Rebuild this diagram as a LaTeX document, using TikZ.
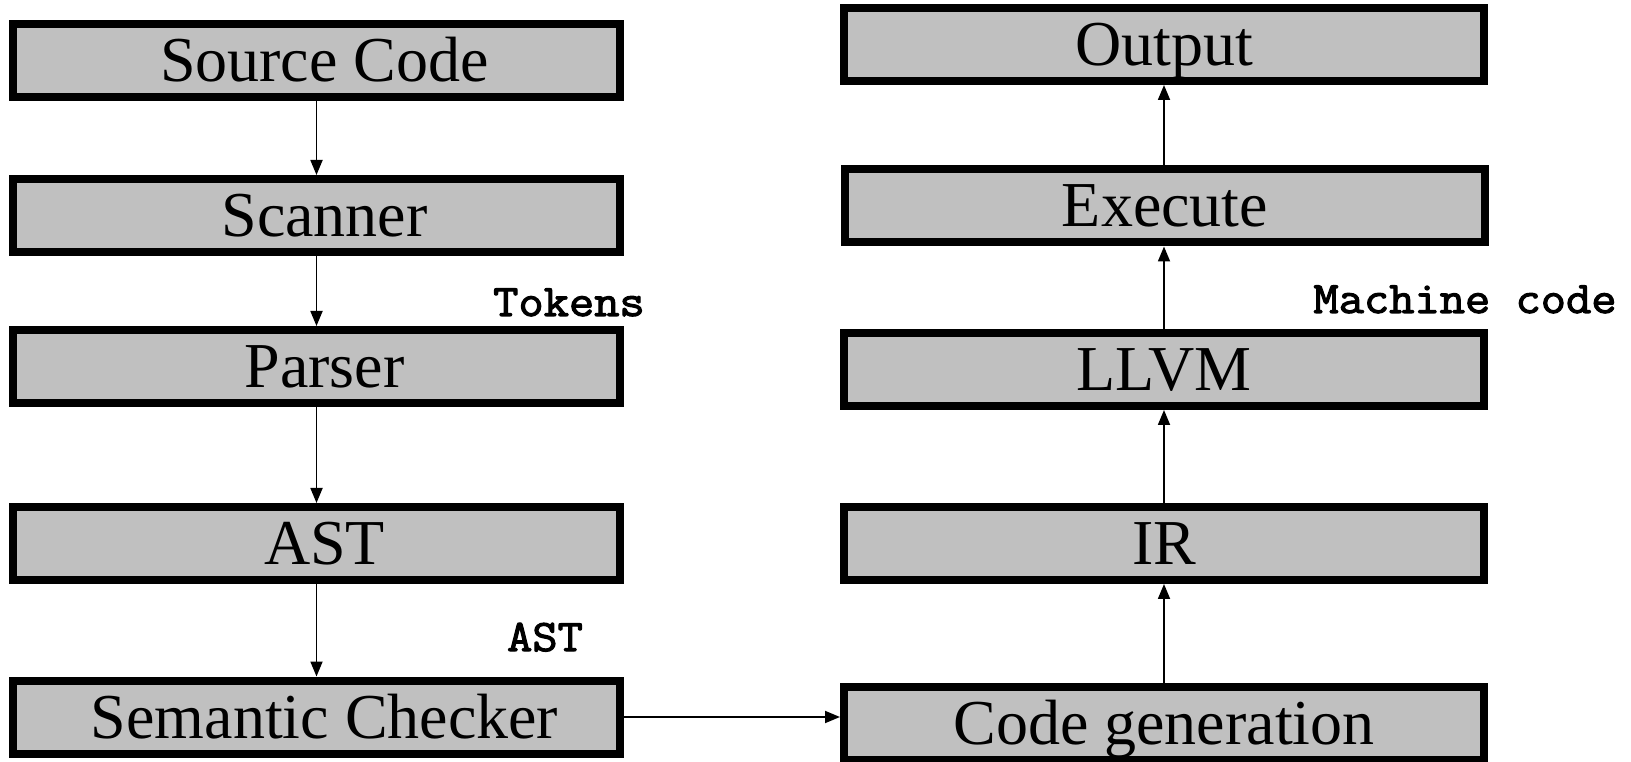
\documentclass[tikz,border=0pt]{standalone}
\usepackage{fontspec}
\setmainfont{Liberation Serif}
\newfontfamily\labelfont[FakeStretch=1.09,FakeBold=2.5]{Latin Modern Mono}
\usetikzlibrary{arrows.meta}
\begin{document}
\begin{tikzpicture}[x=1pt,y=1pt,
  stage/.style={draw=black, line width=8pt, fill=boxgray, inner sep=0pt,
    minimum height=73pt, text height=42pt, text depth=0pt,
    font=\fontsize{64}{72}\selectfont},
  leftstage/.style={stage, minimum width=607pt},
  rightstage/.style={stage, minimum width=640pt},
  shifted/.style={label={[font=\fontsize{64}{72}\selectfont, text height=42pt, text depth=0pt, inner sep=0pt, xshift=8pt]center:#1}},
  flow/.style={line width=1.8pt, -{Triangle[length=15pt,width=12pt]}},
  tag/.style={anchor=base, inner sep=0pt, font=\labelfont\fontsize{45}{50}\selectfont}
]
\definecolor{boxgray}{HTML}{C0C0C0}
\useasboundingbox (0,0) rectangle (1631,761);

% front end (left column); its captions sit a little right of centre
\node[leftstage, shifted=Source Code]      (src)  at (316.5,700)   {};
\node[leftstage, shifted=Scanner]          (scan) at (316.5,545.5) {};
\node[leftstage, shifted=Parser]           (pars) at (316.5,394.5) {};
\node[leftstage, shifted=AST]              (ast)  at (316.5,217.5) {};
\node[leftstage, shifted=Semantic Checker] (sem)  at (316.5,44)    {};

% back end (right column)
\node[rightstage] (out)  at (1164,716.5) {Output};
\node[rightstage] (exe)  at (1165,555)   {Execute};
\node[rightstage] (llvm) at (1164,391.5) {LLVM};
\node[rightstage] (ir)   at (1164,217.5) {IR};
\node[rightstage] (cg)   at (1164,37.5)  {Code generation};

% intermediate products
\node[tag] (tok)  at (569,445)  {Tokens};
\node[tag] (astl) at (545,110)  {AST};
\node[tag] (mc)   at (1465,448) {Machine code};

% connectors
\begin{scope}[xshift=2pt]
\draw[flow] (src)  -- (scan);
\draw[flow] (scan) -- (pars);
\draw[flow] (pars) -- (ast);
\draw[flow] (ast)  -- (sem);
\end{scope}
\draw[flow] (sem.east) -- (sem.east -| cg.west);
\draw[flow] (cg)   -- (ir);
\draw[flow] (ir)   -- (llvm);
\draw[flow] (llvm) -- (llvm |- exe.south);
\draw[flow] (llvm |- exe.north) -- (llvm |- out.south);
\end{tikzpicture}
\end{document}
